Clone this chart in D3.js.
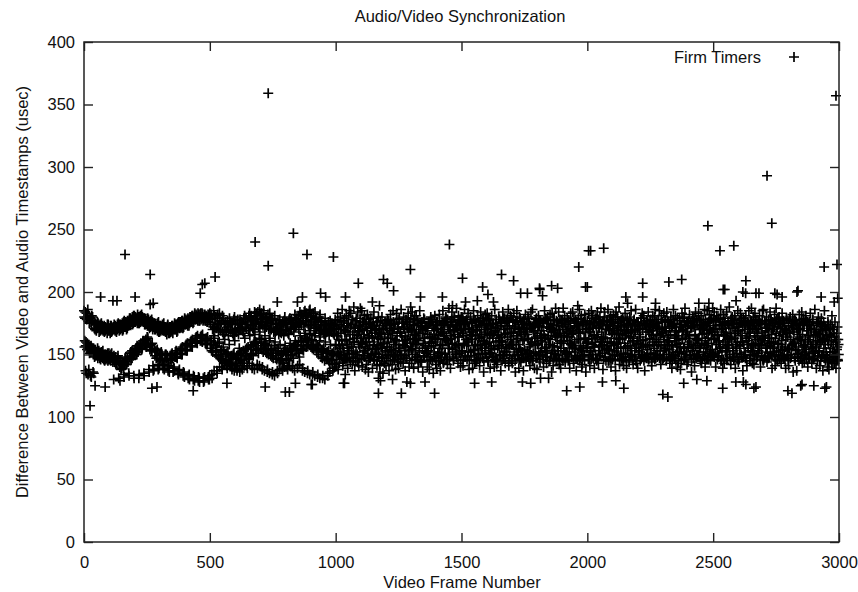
<!DOCTYPE html>
<html>
<head>
<meta charset="utf-8">
<script src="https://cdn.jsdelivr.net/npm/d3@7"></script>
<style>
body { margin: 0; background: #fff; }
svg text { font-family: "Liberation Sans", Arial, sans-serif; fill: #111; }
</style>
</head>
<body>
<div id="chart"></div>
<script>
// values, one list for even frames and one for odd frames
const frameStep = 2;

const seg0000 = [
	185,156,179,137,160,183,154,180,134,158, 181,151,176,133,157,175,153,180,136,155,
	176,148,170,153,174,150,171,155,175,149, 168,151,174,146,170,152,173,147,169,150,
	173,145,169,150,171,147,167,151,174,146, 171,149,167,145,173,151,169,147,172,130,
	174,144,169,148,172,143,170,147,175,131, 169,140,174,145,171,139,175,143,170,134,
	177,143,172,148,175,142,171,147,176,135, 174,148,179,152,176,147,180,151,175,133,
	181,151,176,155,179,150,175,156,180,131, 175,155,181,159,177,154,180,160,176,135,
	179,158,174,162,177,157,173,163,178,138, 171,154,177,158,173,153,176,141,172,138,
	175,149,170,153,173,148,169,142,176,139, 168,151,173,146,170,150,174,139,169,142,
	172,146,168,150,171,145,173,137,167,140, 167,149,172,145,169,151,173,136,170,139,
	175,148,170,153,174,147,169,135,176,137, 171,151,176,155,173,150,177,133,172,135,
	179,154,174,158,177,153,173,131,178,134, 175,157,180,161,177,156,181,130,176,132,
	183,160,178,164,181,159,177,129,182,131, 177,161,183,165,179,160,182,131,178,129,
	182,159,177,163,180,158,176,132,181,130
];
const seg0000b = [
	180,161,184,157,135,178,159,186,155,138, 175,156,179,152,132,181,155,177,150,135,
	171,154,175,149,169,152,176,147,172,153, 173,147,169,151,175,148,170,153,172,146,
	168,150,172,146,170,149,174,145,169,151, 169,146,173,150,168,148,171,144,170,149,
	170,147,173,142,168,145,174,149,171,145, 174,143,170,138,173,144,169,141,176,132,
	172,147,176,142,170,146,177,144,173,133, 179,151,175,146,178,153,174,149,181,131,
	176,154,180,150,177,157,182,152,175,134, 180,158,176,155,182,156,177,161,179,133,
	174,161,178,156,175,164,179,159,173,136, 176,157,172,153,178,159,170,137,175,155,
	170,152,174,147,171,154,175,138,168,141, 173,147,169,152,172,145,170,141,175,138,
	169,150,172,147,166,149,174,141,170,136, 172,146,168,150,173,147,167,140,171,137,
	170,152,174,148,168,151,175,134,172,138, 176,154,172,150,177,156,171,136,175,132,
	174,157,178,153,175,159,179,133,173,130, 180,160,176,157,181,162,175,133,179,129,
	178,163,182,160,179,165,183,132,177,128, 182,164,178,161,183,166,177,128,180,132,
	177,162,181,158,176,164,182,130,178,133
];

const seg0500 = [
	183,155,174,161,134,179,152,172,165,181, 172,157,180,150,137,175,159,168,148,183,
	177,147,169,154,140,181,145,166,152,174, 168,150,176,143,141,172,152,165,146,179,
	176,142,168,149,138,174,147,165,151,180, 169,147,177,141,137,171,150,166,144,175,
	178,145,170,152,140,175,143,167,149,181, 172,154,179,148,141,176,156,169,147,183,
	180,151,173,157,139,177,149,170,160,184, 175,160,183,153,142,179,155,172,163,186,
	182,155,174,162,138,178,152,185,159,171, 173,158,180,151,136,176,153,170,161,183,
	177,149,170,155,134,179,147,168,157,181, 168,152,175,146,137,171,155,166,144,178,
	173,145,167,151,139,176,143,165,153,180, 169,152,176,146,140,172,150,166,155,179,
	177,149,171,155,141,174,147,168,157,182, 172,158,179,152,139,176,160,170,148,184,
	181,155,174,161,137,179,153,172,164,185, 176,163,183,157,135,180,158,173,166,186,
	180,156,174,162,134,178,154,171,165,184, 172,158,179,152,132,176,156,169,161,182,
	176,148,169,154,131,173,152,166,145,179, 167,151,174,146,135,171,153,165,143,177,
	174,145,168,151,139,172,149,166,142,178
];
const seg0500b = [
	176,160,182,153,131,170,158,185,137,163, 179,152,171,156,135,182,149,174,160,140,
	170,153,176,146,138,168,156,179,143,162, 175,145,169,151,139,177,144,170,158,142,
	170,148,175,143,140,167,150,178,137,161, 174,143,168,149,139,178,146,170,155,136,
	171,151,176,146,138,169,153,179,141,163, 178,149,171,155,139,174,146,181,143,165,
	174,156,181,150,141,171,158,178,138,166, 181,154,176,159,139,184,151,174,141,168,
	176,160,183,154,140,173,157,180,137,165, 179,152,172,157,138,182,150,175,135,163,
	171,154,178,148,136,175,151,169,133,160, 174,147,169,153,135,177,149,172,138,158,
	168,150,174,146,137,170,152,177,140,157, 175,147,170,153,138,167,145,178,141,159,
	170,154,178,150,139,176,156,172,137,161, 178,153,173,157,141,181,151,175,142,165,
	175,160,182,154,139,177,157,184,136,167, 182,156,177,162,137,174,160,185,134,169,
	174,161,181,155,136,183,158,176,133,167, 178,153,171,157,134,174,150,180,131,164,
	170,153,177,147,133,168,155,174,130,160, 173,147,168,152,133,176,145,170,136,158,
	169,150,175,146,137,167,152,173,140,157
];

const seg1000 = [
	176,143,165,152,183,138,170,157,148,180, 150,172,161,186,141,155,177,146,168,134,
	169,181,147,158,139,175,153,185,162,144, 183,156,174,142,166,151,188,160,137,171,
	145,179,163,150,184,168,141,173,156,187, 172,158,185,140,176,149,164,181,153,138,
	160,142,171,182,155,136,178,165,147,174, 179,167,150,139,173,158,184,145,169,154,
	151,176,141,164,157,180,148,171,136,162, 166,147,180,155,135,170,159,143,176,152,
	141,171,156,178,149,163,137,174,153,182, 175,154,142,167,185,150,170,146,160,138,
	158,183,165,144,172,139,178,155,168,149, 186,150,175,161,143,180,157,170,137,164,
	147,178,159,171,183,152,140,176,162,188, 169,143,184,155,174,139,166,181,150,158,
	181,162,148,176,140,170,153,185,145,173, 144,175,167,136,159,179,149,163,172,155,
	173,152,140,169,157,176,138,164,146,180, 156,178,145,163,135,171,152,181,160,142,
	170,139,176,151,165,144,182,155,137,168, 148,174,158,185,143,167,176,150,162,180,
	178,161,142,172,155,187,146,170,139,165, 163,184,154,176,145,169,180,158,173,150,
	187,157,171,143,181,164,152,178,140,175
];
const seg1000b = [
	158,171,146,165,177,150,162,143,174,155, 167,149,176,157,144,170,152,179,161,147,
	145,162,173,151,168,180,155,147,166,172, 174,156,148,178,160,145,171,163,150,176,
	152,177,165,144,173,158,147,169,179,160, 163,146,170,159,152,176,166,148,174,156,
	178,160,151,169,145,163,175,157,147,171, 149,172,164,154,179,146,160,173,152,167,
	170,155,145,176,163,150,168,142,177,158, 156,167,173,148,159,171,144,164,153,175,
	147,175,160,166,150,177,156,169,145,163, 173,152,168,145,176,158,148,174,162,150,
	161,178,149,171,155,146,179,153,167,144, 150,165,176,158,147,172,161,149,178,156,
	176,147,162,174,168,153,145,171,159,179, 154,170,150,163,178,160,173,146,165,148,
	168,158,177,146,161,175,152,167,144,172, 145,176,155,170,149,163,178,157,171,151,
	172,148,166,153,175,145,160,176,150,164, 159,174,145,178,157,169,148,163,173,147,
	176,162,171,149,166,152,177,145,158,170, 151,168,157,175,144,173,163,151,179,146,
	165,146,178,160,170,155,148,174,162,176, 178,159,152,168,147,180,166,156,150,172,
	148,173,164,177,158,151,175,169,145,180
];

const seg1500 = [
	153,180,167,141,174,159,186,148,170,162, 178,146,160,183,152,138,171,165,180,149,
	162,175,139,168,185,154,143,177,158,172, 145,170,181,150,163,176,141,157,184,166,
	174,155,147,179,136,168,160,182,151,173, 159,183,170,144,177,150,165,139,174,156,
	181,148,163,175,157,140,186,169,146,178, 142,171,155,166,180,161,150,176,137,164,
	176,160,184,147,170,152,179,143,167,155, 150,179,164,186,141,173,157,181,162,145,
	168,143,176,158,183,149,171,136,177,160, 185,165,150,172,139,180,155,168,144,174,
	147,174,161,137,178,154,166,182,151,170, 171,153,180,163,146,175,141,158,184,149,
	160,186,145,169,176,139,172,152,164,179, 138,167,158,181,150,173,144,177,161,155,
	175,149,172,140,166,185,153,163,178,143, 152,180,163,175,145,158,182,148,170,136,
	183,157,141,169,178,151,165,187,146,173, 164,176,153,184,142,170,159,139,177,161,
	147,172,187,155,165,181,144,174,152,168, 179,161,145,177,152,139,171,183,158,166,
	156,184,168,143,175,160,149,178,137,172, 173,148,179,162,186,145,167,155,181,140,
	142,170,157,176,150,182,163,136,174,159
];
const seg1500b = [
	170,153,179,146,165,158,174,149,176,162, 157,176,149,171,160,145,168,178,152,166,
	175,162,170,153,178,148,157,165,144,173, 146,169,158,176,151,172,164,147,179,155,
	164,150,177,161,145,175,153,170,158,148, 179,166,145,155,173,160,178,151,167,171,
	151,174,163,148,168,154,146,175,160,144, 168,145,172,165,157,178,161,149,173,156,
	145,160,150,179,147,166,175,158,152,177, 173,171,156,144,176,149,167,162,180,158,
	158,147,178,167,152,172,145,176,154,165, 177,163,149,158,170,146,179,153,166,150,
	152,176,170,147,162,175,150,168,145,174, 166,148,162,179,156,152,173,147,171,160,
	145,172,151,168,174,163,157,178,149,147, 175,159,173,150,146,177,165,152,169,163,
	160,150,146,176,164,155,179,148,156,172, 148,177,165,158,171,145,162,174,151,168,
	171,153,178,147,156,168,150,164,177,145, 156,166,149,173,145,178,167,153,160,175,
	178,145,161,167,176,152,146,170,164,151, 150,172,176,146,159,164,177,158,148,169,
	167,157,145,179,152,173,155,147,176,162, 146,175,168,154,170,147,162,178,153,149,
	174,149,156,163,145,176,168,155,171,160
];

const seg2000 = [
	177,159,146,183,168,141,174,152,185,163, 150,181,171,156,139,176,160,147,179,166,
	184,164,143,172,157,180,149,187,162,174, 158,138,177,163,184,151,170,145,176,155,
	173,186,154,145,169,160,181,140,166,178, 146,171,182,160,153,175,137,184,158,169,
	180,155,167,188,142,163,176,150,172,145, 163,177,141,170,159,183,148,167,139,179,
	151,168,175,144,180,157,164,185,153,170, 174,142,160,178,148,168,186,155,143,161,
	139,176,153,166,172,145,158,179,150,183, 170,158,181,149,137,174,162,147,177,154,
	156,184,146,173,163,151,178,166,141,169, 181,165,172,157,146,186,150,175,160,148,
	149,178,160,185,170,153,142,181,167,176, 168,147,183,162,155,177,171,145,184,158,
	176,161,150,171,143,166,180,157,139,173, 152,186,175,147,163,181,145,169,158,140,
	165,143,159,179,172,138,174,151,183,162, 180,170,146,156,187,164,150,176,142,168,
	144,175,163,182,149,171,158,136,177,153, 172,156,179,141,165,184,147,162,174,150,
	159,183,148,170,176,155,181,143,166,172, 178,152,167,186,140,161,173,157,185,146,
	163,176,182,151,170,145,179,168,154,187
];
const seg2000b = [
	155,170,162,148,175,153,168,146,179,158, 172,147,176,165,156,179,150,173,145,164,
	146,178,153,171,149,160,175,157,168,151, 176,164,146,156,180,148,163,170,154,177,
	160,145,170,177,153,174,147,159,176,150, 168,176,157,149,167,145,180,152,163,172,
	149,159,173,162,146,170,156,178,147,166, 179,151,148,174,169,156,165,145,173,155,
	157,172,164,146,178,150,174,168,149,161, 146,163,177,169,155,173,145,158,176,170,
	173,150,159,152,171,164,179,147,156,148, 161,179,145,175,148,157,168,173,150,176,
	170,146,168,158,177,172,151,144,174,160, 148,173,155,180,162,147,176,166,153,171,
	175,158,172,147,150,165,157,178,170,146, 153,164,148,171,178,155,169,150,160,177,
	165,176,160,154,146,176,148,172,145,157, 178,149,174,164,168,150,161,156,179,152,
	147,168,152,177,156,172,145,174,163,169, 169,155,179,146,173,148,166,152,176,158,
	156,177,165,160,150,175,172,146,155,180, 176,147,150,173,166,157,149,178,161,148,
	150,163,177,155,145,170,174,159,147,171, 172,174,158,148,178,152,146,167,175,156,
	159,146,169,176,154,178,163,150,168,149
];

const seg2500 = [
	171,150,184,163,177,140,158,181,166,152, 148,179,161,173,155,186,145,168,176,139,
	182,166,143,176,160,171,153,184,147,164, 157,173,188,150,167,142,179,162,180,155,
	175,146,163,181,139,158,174,151,169,185, 144,169,177,155,183,165,148,176,160,137,
	179,158,150,172,147,181,163,141,174,167, 161,185,170,145,176,153,187,159,143,172,
	176,142,165,183,158,170,149,178,164,151, 153,177,181,162,140,174,157,168,185,146,
	186,164,148,175,169,155,180,144,171,160, 147,173,159,184,151,178,166,139,176,156,
	170,155,182,141,163,187,152,172,145,179, 159,180,146,168,175,143,161,183,154,166,
	177,148,171,156,139,169,178,150,164,145, 141,167,155,180,162,148,173,158,182,136,
	173,159,178,145,154,176,137,166,151,170, 150,182,164,171,147,161,184,143,175,157,
	179,144,156,162,181,152,169,176,140,165, 162,174,147,183,158,170,143,155,178,151,
	146,170,186,153,166,139,175,161,149,180, 176,152,141,168,160,179,148,172,137,163,
	155,185,162,145,171,150,164,140,176,158, 138,165,152,174,146,160,181,149,143,170,
	167,143,176,150,139,162,154,172,145,158
];
const seg2500b = [
	177,162,148,170,151,173,158,179,146,165, 160,149,174,156,178,145,170,153,171,158,
	146,175,165,179,152,168,147,162,155,176, 174,158,150,163,145,177,164,172,148,153,
	153,171,178,148,167,156,175,146,160,172, 169,146,157,175,160,150,179,165,173,148,
	148,177,170,152,174,163,145,158,176,155, 175,164,147,168,149,177,156,171,152,180,
	157,150,173,178,162,146,170,148,167,159, 171,176,155,146,175,158,149,177,163,145,
	146,161,177,165,152,172,174,156,148,168, 178,148,163,157,177,149,160,170,175,152,
	160,172,150,176,146,167,178,145,158,174, 149,165,176,153,171,158,148,175,166,147,
	176,153,146,170,162,179,167,154,149,173, 155,178,168,147,175,150,157,172,177,160,
	168,147,159,177,153,171,174,148,163,156, 145,170,175,162,148,178,152,166,150,176,
	173,158,149,154,177,146,169,160,174,148, 151,176,164,171,156,173,147,178,158,165,
	170,148,152,160,168,156,176,145,167,153, 158,166,174,145,175,149,162,170,150,176,
	147,173,158,169,152,170,148,161,174,144, 166,146,171,155,164,143,172,152,158,148,
	152,164,148,160,145,167,156,146,162,150
];

const segStarts = [0, 500, 1000, 1500, 2000, 2500];
const evenFrames = [seg0000, seg0500, seg1000, seg1500, seg2000, seg2500];
const oddFrames = [seg0000b, seg0500b, seg1000b, seg1500b, seg2000b, seg2500b];

// stray points above and below the main band
const spikeFrames = [
	24, 44, 84, 143, 270, 290, 434, 568, 720, 800, 907, 66, 115, 131, 203, 263, 275,
	163, 263, 470, 480, 521, 462, 680, 732, 732, 832, 886, 991,
	768, 848, 868, 940, 960, 1039, 1146, 1174, 1337, 1424, 1464, 816, 840, 903, 1035,
	1170, 1226, 1283, 1355, 1031, 1090, 1170, 1178, 1190, 1205, 1230, 1261, 1297, 1297,
	1393, 1452, 1504, 1552, 1584, 1620, 1659, 1707, 1811, 1858, 1882, 1918, 1966, 1970,
	2005, 2000, 1516, 1563, 1605, 1627, 1735, 1762, 1810, 1822, 1962, 1993, 2153, 2160,
	2220, 1775, 1742, 1814, 1846, 2113,
	2013, 2065, 2060, 2145, 2220, 2300, 2320, 2324, 2375, 2479, 2527, 2538, 2540, 2582,
	2620, 2630, 2618, 2670, 2714, 2733, 2662, 2745, 2797, 2813, 2837, 2848, 2941, 2944,
	2988, 2992, 2995, 2271, 2443, 2483, 2546, 2629, 2682, 2754, 2774, 2833, 2591, 2929,
	2981, 2383, 2435, 2475, 2590, 2630, 2670, 2853, 2900, 2950
];
const spikeValues = [
	109, 125, 124, 129, 123, 124, 121, 127, 124, 120, 126, 196, 193, 193, 196, 190, 191,
	230, 214, 206, 207, 212, 199, 240, 359, 221, 247, 230, 228,
	192, 192, 196, 199, 196, 196, 192, 189, 196, 196, 189, 120, 127, 126, 127,
	131, 130, 128, 128, 127, 207, 119, 129, 210, 207, 201, 119, 218, 127,
	119, 238, 211, 127, 204, 128, 214, 209, 202, 205, 203, 121, 220, 124,
	233, 204, 192, 193, 198, 192, 199, 199, 203, 197, 189, 204, 196, 191,
	196, 127, 128, 131, 131, 129,
	233, 235, 128, 123, 207, 118, 116, 208, 210, 253, 233, 123, 202, 237,
	128, 209, 200, 199, 293, 255, 123, 199, 121, 119, 201, 125, 220, 123,
	357, 222, 195, 191, 191, 191, 202, 199, 199, 198, 196, 200, 193, 196,
	192, 127, 130, 129, 128, 126, 124, 126, 125, 124
];

const xTicks = [0, 500, 1000, 1500, 2000, 2500, 3000];
const yTicks = [0, 50, 100, 150, 200, 250, 300, 350, 400];
const chartTitle = 'Audio/Video Synchronization';
const xLabel = 'Video Frame Number';
const yLabel = 'Difference Between Video and Audio Timestamps (usec)';
const seriesName = 'Firm Timers';

const width = 858, height = 592;
const margins = { left: 84, right: 19, top: 42, bottom: 50 };
const plotW = width - margins.left - margins.right;
const plotH = height - margins.top - margins.bottom;
const fontSize = '16.5px';
const crossPath = 'M-5,0H5M0,-5V5';
const crossWidth = 1.7;

const points = [];
segStarts.forEach((start, s) => {
	evenFrames[s].forEach((v, i) => points.push({ frame: start + i * frameStep, value: v }));
	oddFrames[s].forEach((v, i) => points.push({ frame: start + i * frameStep + 1, value: v }));
});
spikeFrames.forEach((f, i) => points.push({ frame: f, value: spikeValues[i] }));

const svg = d3.select('#chart').append('svg')
	.attr('width', width)
	.attr('height', height);

const x = d3.scaleLinear().domain([0, 3000]).range([0, plotW]);
const y = d3.scaleLinear().domain([0, 400]).range([plotH, 0]);

const content = svg.append('g')
	.attr('transform', 'translate(' + margins.left + ',' + margins.top + ')');

// points first, frame on top
content.append('g')
	.selectAll('path')
	.data(points)
	.enter()
	.append('path')
	.attr('d', crossPath)
	.attr('transform', d => 'translate(' + x(d.frame) + ',' + y(d.value) + ')')
	.attr('stroke', '#000')
	.attr('stroke-width', crossWidth)
	.attr('fill', 'none');

// gnuplot style: ticks inside, mirrored on all sides
content.append('g')
	.call(d3.axisLeft(y).tickValues(yTicks).tickFormat(d3.format('d')).tickSize(-9).tickPadding(9));
content.append('g')
	.attr('transform', 'translate(0,' + plotH + ')')
	.call(d3.axisBottom(x).tickValues(xTicks).tickFormat(d3.format('d')).tickSize(-9).tickPadding(14));
content.append('g')
	.attr('transform', 'translate(' + plotW + ',0)')
	.call(d3.axisRight(y).tickValues(yTicks).tickSize(-9).tickFormat(''));
content.append('g')
	.call(d3.axisTop(x).tickValues(xTicks).tickSize(-9).tickFormat(''));

content.selectAll('.domain').remove();
content.selectAll('.tick line').attr('stroke', '#222').attr('stroke-width', 1.4);
content.selectAll('.tick text')
	.attr('font-size', fontSize)
	.attr('font-family', '"Liberation Sans", Arial, sans-serif')
	.attr('fill', '#111');

content.append('rect')
	.attr('x', 0).attr('y', 0)
	.attr('width', plotW).attr('height', plotH)
	.attr('fill', 'none')
	.attr('stroke', '#222')
	.attr('stroke-width', 1.5);

svg.append('text')
	.attr('x', 460).attr('y', 22)
	.attr('text-anchor', 'middle')
	.attr('font-size', fontSize)
	.text(chartTitle);

svg.append('text')
	.attr('x', 462).attr('y', 588)
	.attr('text-anchor', 'middle')
	.attr('font-size', fontSize)
	.text(xLabel);

svg.append('text')
	.attr('transform', 'translate(28,' + (margins.top + plotH / 2) + ') rotate(-90)')
	.attr('text-anchor', 'middle')
	.attr('font-size', fontSize)
	.text(yLabel);

// legend
svg.append('text')
	.attr('x', 761).attr('y', 63)
	.attr('text-anchor', 'end')
	.attr('font-size', fontSize)
	.text(seriesName);
svg.append('path')
	.attr('d', crossPath)
	.attr('transform', 'translate(794,57)')
	.attr('stroke', '#000')
	.attr('stroke-width', crossWidth)
	.attr('fill', 'none');
</script>
</body>
</html>
